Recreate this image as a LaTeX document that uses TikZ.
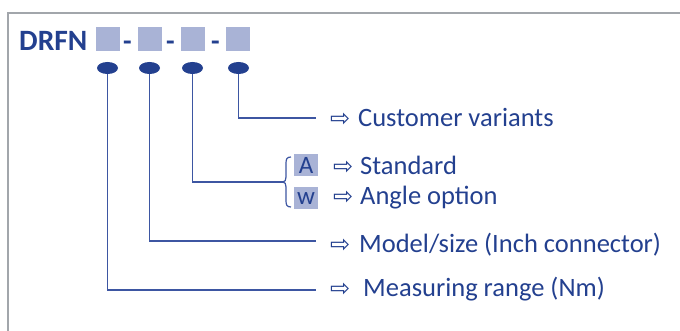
\documentclass[tikz,border=0pt]{standalone}
\usepackage{fontspec}
\setmainfont{Carlito}
\newfontfamily\dejavu{DejaVu Sans}
\usetikzlibrary{shapes.geometric}
\definecolor{tblue}{HTML}{23408F}
\definecolor{lblue}{HTML}{3D56A2}
\definecolor{sq}{HTML}{A9B3D6}
\definecolor{frm}{HTML}{A2A6AB}
\newcommand{\arr}{{\dejavu\fontsize{24}{26}\selectfont ⇨}}
\begin{document}
\begin{tikzpicture}[x=1pt,y=-1pt,
  lbl/.style={inner sep=0, anchor=base west, text=tblue, font=\fontsize{26.5}{30}\selectfont},
  sqbox/.style={fill=sq, minimum width=24, minimum height=24, inner sep=0},
  abox/.style={fill=sq, minimum width=24, minimum height=22, inner sep=0, text=tblue, font=\fontsize{25}{26}\selectfont},
  dashtxt/.style={inner sep=0, anchor=base, text=tblue, font=\bfseries\fontsize{28}{30}\selectfont},
  dot/.style={ellipse, fill=tblue, minimum width=21, minimum height=12, inner sep=0},
  conn/.style={draw=lblue, line width=1.4}]
\useasboundingbox (0,0) rectangle (680,331);
\draw[frm, line width=1.6] (8,331) -- (8,13) -- (680,13);
% code line
\node[lbl, anchor=base west, font=\bfseries\fontsize{29.5}{30}\selectfont] (drfn) at (19,51) {DRFN};
\node[sqbox] (s1) at (108,39) {};
\node[sqbox] (s2) at (150,39) {};
\node[sqbox] (s3) at (193,39) {};
\node[sqbox] (s4) at (238,39) {};
\node[dashtxt] (d1) at (127.5,51) {-};
\node[dashtxt] (d2) at (170.5,51) {-};
\node[dashtxt] (d3) at (215.5,51) {-};
% dots
\node[dot] (e1) at (107.5,68) {};
\node[dot] (e2) at (149.5,68) {};
\node[dot] (e3) at (192.5,68) {};
\node[dot] (e4) at (238.5,68) {};
% labels
\node[lbl] (cv) at (330,127) {\makebox[28pt][l]{\arr}Customer variants};
\node[abox] (ba) at (306,165) {A};
\node[abox] (bw) at (306,198.5) {w};
\node[lbl] (std) at (333,175) {\makebox[27pt][l]{\arr}Standard};
\node[lbl] (ang) at (333,205) {\makebox[27pt][l]{\arr}Angle option};
\node[lbl] (mod) at (330,252) {\makebox[29pt][l]{\arr}Model/size (Inch connector)};
\node[lbl] (mr) at (330,296) {\makebox[33pt][l]{\arr}Measuring range (Nm)};
% connector ends
\coordinate (cvend) at (316,118);
\coordinate (bt) at (283,182);
\coordinate (modend) at (316,241);
\coordinate (mrend) at (316,290);
% connectors
\draw[conn] (e4) |- (cvend);
\draw[conn] (e3) |- (bt);
\draw[conn] (e2) |- (modend);
\draw[conn] (e1) |- (mrend);
% brace
\draw[conn, line width=1.2] (291,157) .. controls (287,157) and (286,159) .. (286,163) -- (286,177)
  .. controls (286,180) and (285,182) .. (bt)
  .. controls (285,182) and (286,184) .. (286,187) -- (286,201)
  .. controls (286,205) and (287,207) .. (291,207);
\end{tikzpicture}
\end{document}
